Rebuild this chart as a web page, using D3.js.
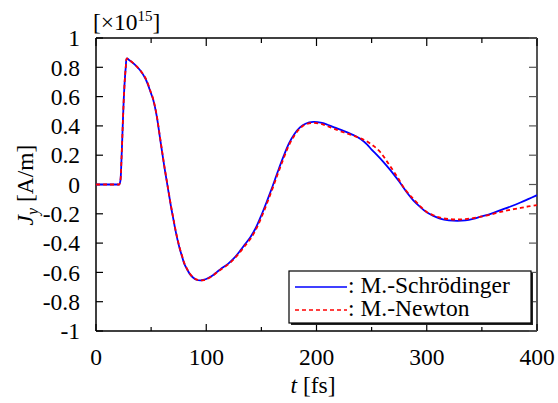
<!DOCTYPE html>
<html><head><meta charset="utf-8">
<script src="https://cdn.jsdelivr.net/npm/d3@7"></script>
<style>body{margin:0;background:#fff}svg{display:block}text{font-family:"Liberation Serif","Times New Roman",serif;fill:#000}</style>
</head><body><svg id="c" width="558" height="403"></svg>
<script>
// Data (t in fs, Jy in units of 1e15 A/m)
const tSchr = [0,10,20,21,22,23,24,25,26,27,28,30,35,40,45,50,52,55,58,60,62,64,66,68,70,72,74,76,78,80,82,85,88,91,95,98,100,105,110,113,120,125,131,135,140,145,150,155,160,165,170,175,180,185,190,197,205,210,216,225,234,240,246,250,255,260,267,275,282,288,294,300,306,312,320,328,335,342,349,358,367,376,385,392,400];
const jSchr = [0,0,0,0,0.02,0.15,0.35,0.55,0.7,0.8,0.86,0.85,0.82,0.78,0.72,0.62,0.575,0.47,0.32,0.22,0.12,0.03,-0.06,-0.15,-0.23,-0.31,-0.38,-0.44,-0.49,-0.54,-0.57,-0.61,-0.635,-0.65,-0.655,-0.65,-0.645,-0.625,-0.595,-0.578,-0.54,-0.505,-0.45,-0.41,-0.36,-0.295,-0.21,-0.115,-0.015,0.09,0.19,0.28,0.345,0.39,0.415,0.427,0.42,0.408,0.39,0.365,0.336,0.31,0.272,0.238,0.2,0.16,0.098,0.02,-0.055,-0.11,-0.153,-0.19,-0.214,-0.233,-0.245,-0.248,-0.245,-0.235,-0.22,-0.2,-0.175,-0.15,-0.123,-0.1,-0.073];
const tNewt = [0,10,20,21,22,23,24,25,26,27,28,30,35,40,45,50,52,55,58,60,62,64,66,68,70,72,74,76,78,80,82,85,88,91,95,98,100,105,110,113,120,125,131,135,140,145,150,155,160,165,170,175,180,185,190,197,205,210,216,225,232,240,246,252,258,265,273,280,288,295,300,306,313,320,328,335,342,349,358,367,376,385,392,400];
const jNewt = [0,0,0,0,0.02,0.15,0.35,0.55,0.7,0.8,0.86,0.85,0.82,0.78,0.725,0.625,0.58,0.475,0.325,0.225,0.125,0.035,-0.055,-0.145,-0.225,-0.305,-0.375,-0.435,-0.485,-0.535,-0.568,-0.607,-0.633,-0.648,-0.655,-0.652,-0.647,-0.628,-0.598,-0.582,-0.545,-0.51,-0.458,-0.42,-0.372,-0.308,-0.225,-0.13,-0.03,0.075,0.175,0.268,0.335,0.383,0.41,0.42,0.412,0.398,0.38,0.355,0.337,0.315,0.293,0.262,0.22,0.145,0.055,-0.03,-0.1,-0.155,-0.187,-0.21,-0.228,-0.236,-0.239,-0.236,-0.23,-0.22,-0.205,-0.187,-0.172,-0.16,-0.15,-0.141];
const xTicks = [0,100,200,300,400];
const xMinor = [50,150,250,350];
const yTicks = [-1,-0.8,-0.6,-0.4,-0.2,0,0.2,0.4,0.6,0.8,1];
const yTickLabels = ["-1","-0.8","-0.6","-0.4","-0.2","0","0.2","0.4","0.6","0.8","1"];
const seriesNames = [": M.-Schrödinger", ": M.-Newton"];
const seriesColors = ["#0000ff", "#ff0000"];

const svg = d3.select("#c");
const L = 96, R = 537, T = 38, B = 331;
const x = d3.scaleLinear().domain([0,400]).range([L,R]);
const y = d3.scaleLinear().domain([-1,1]).range([B,T]);
const fs = 23.5;

// frame
svg.append("line").attr("x1",L).attr("x2",R).attr("y1",T).attr("y2",T).attr("stroke","#000").attr("stroke-width",1.5);
svg.append("line").attr("x1",L).attr("x2",R).attr("y1",B).attr("y2",B).attr("stroke","#000").attr("stroke-width",1.5);
svg.append("line").attr("x1",L).attr("x2",L).attr("y1",T).attr("y2",B).attr("stroke","#000").attr("stroke-width",1.5);
svg.append("line").attr("x1",R).attr("x2",R).attr("y1",T).attr("y2",B).attr("stroke","#555").attr("stroke-width",2);

// ticks
const g = svg.append("g");
xTicks.forEach(v=>{
  g.append("line").attr("x1",x(v)).attr("x2",x(v)).attr("y1",B).attr("y2",B-7).attr("stroke","#000").attr("stroke-width",1.2);
  g.append("line").attr("x1",x(v)).attr("x2",x(v)).attr("y1",T).attr("y2",T+8).attr("stroke","#000").attr("stroke-width",1.2);
  g.append("text").attr("x",x(v)).attr("y",365).attr("text-anchor","middle").attr("font-size",fs).text(v);
});
xMinor.forEach(v=>{
  g.append("line").attr("x1",x(v)).attr("x2",x(v)).attr("y1",B).attr("y2",B-4).attr("stroke","#000").attr("stroke-width",1.2);
  g.append("line").attr("x1",x(v)).attr("x2",x(v)).attr("y1",T).attr("y2",T+5).attr("stroke","#000").attr("stroke-width",1.2);
});
yTicks.forEach((v,i)=>{
  g.append("line").attr("x1",L).attr("x2",L+7).attr("y1",y(v)).attr("y2",y(v)).attr("stroke","#000").attr("stroke-width",1.2);
  g.append("line").attr("x1",R).attr("x2",R-8).attr("y1",y(v)).attr("y2",y(v)).attr("stroke","#555").attr("stroke-width",1.2);
  g.append("text").attr("x",80).attr("y",y(v)).attr("dy","0.35em").attr("text-anchor","end").attr("font-size",fs).text(yTickLabels[i]);
});

// multiplier
const m = svg.append("text").attr("x",93).attr("y",30).attr("font-size",fs);
m.append("tspan").text("[×10");
m.append("tspan").attr("dy",-9).attr("font-size",15).text("15");
m.append("tspan").attr("dy",9).text("]");

// axis titles
const xt = svg.append("text").attr("x",313).attr("y",393).attr("text-anchor","middle").attr("font-size",fs);
xt.append("tspan").attr("font-style","italic").text("t");
xt.append("tspan").text(" [fs]");
const yt = svg.append("text").attr("transform","translate(33,185) rotate(-90)").attr("text-anchor","middle").attr("font-size",fs);
yt.append("tspan").attr("font-style","italic").text("J");
yt.append("tspan").attr("font-style","italic").attr("font-size",16).attr("dy",5).text("y");
yt.append("tspan").attr("dy",-5).text(" [A/m]");

// curves
const line = d3.line().x(d=>x(d[0])).y(d=>y(d[1])).curve(d3.curveCatmullRom.alpha(0.5));
svg.append("clipPath").attr("id","pc").append("rect").attr("x",L).attr("y",T).attr("width",R-L).attr("height",B-T);
svg.append("path").attr("d",line(tSchr.map((t,i)=>[t,jSchr[i]]))).attr("fill","none").attr("stroke",seriesColors[0]).attr("stroke-width",1.8).attr("clip-path","url(#pc)");
svg.append("path").attr("d",line(tNewt.map((t,i)=>[t,jNewt[i]]))).attr("fill","none").attr("stroke",seriesColors[1]).attr("stroke-width",1.8).attr("stroke-dasharray","4,3").attr("clip-path","url(#pc)");

// legend
const lx=289, ly=271, lw=242, lh=52;
svg.append("rect").attr("x",lx+2).attr("y",ly+2).attr("width",lw).attr("height",lh).attr("fill","#222");
svg.append("rect").attr("x",lx).attr("y",ly).attr("width",lw).attr("height",lh).attr("fill","#fff").attr("stroke","#000").attr("stroke-width",1.2);
[[287,293],[310,316]].forEach((p,i)=>{
  svg.append("line").attr("x1",295).attr("x2",347).attr("y1",p[0]).attr("y2",p[0]).attr("stroke",seriesColors[i]).attr("stroke-width",1.3).attr("stroke-dasharray",i?"4,3":null);
  svg.append("text").attr("x",348).attr("y",p[1]).attr("font-size",23.5).text(seriesNames[i]);
});
</script></body></html>
